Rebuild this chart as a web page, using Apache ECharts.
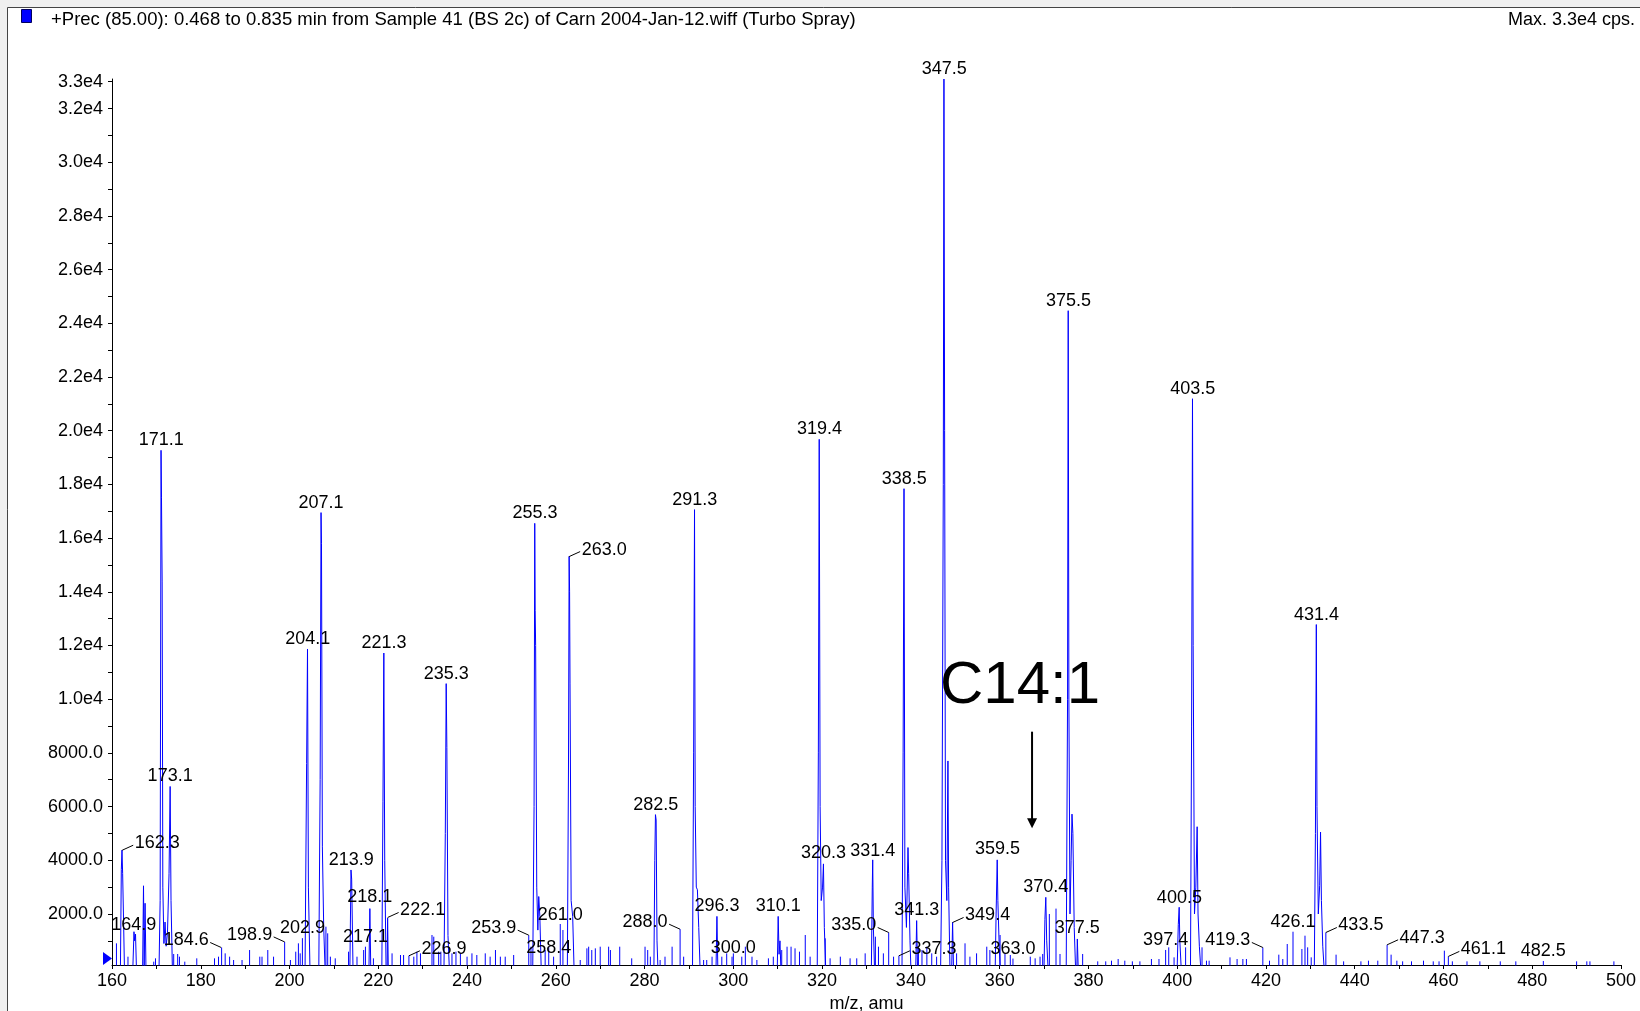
<!DOCTYPE html>
<html><head><meta charset="utf-8">
<script src="https://cdn.jsdelivr.net/npm/echarts@6/dist/echarts.min.js"></script>
<style>html,body{margin:0;padding:0;background:#fff}#c{width:1640px;height:1011px}</style>
</head><body><div id="c"></div>
<script>
// ---------- data ----------
const titleText = '+Prec (85.00): 0.468 to 0.835 min from Sample 41 (BS 2c) of Carn 2004-Jan-12.wiff (Turbo Spray)';
const maxText = 'Max. 3.3e4 cps.';
const xAxisName = 'm/z, amu';
const yTickValues = [1000,2000,3000,4000,5000,6000,7000,8000,9000,10000,11000,12000,13000,14000,15000,16000,17000,18000,19000,20000,21000,22000,23000,24000,25000,26000,27000,28000,29000,30000,31000,32000,33000];
const yLabelValues = [2000,4000,6000,8000,10000,12000,14000,16000,18000,20000,22000,24000,26000,28000,30000,32000,33000];

// profile peaks: [m/z, intensity]
const peakProfiles = [
 [[161.9,0],[162.1,3650],[162.25,4380],[162.4,3500],[162.6,1800],[162.8,0]],
 [[164.7,0],[164.95,1340],[165.1,1000],[165.3,1250],[165.5,0]],
 [[166.9,0],[167.1,3050],[167.25,0],[167.45,2400],[167.65,0]],
 [[170.6,0],[170.85,2500],[171.05,19270],[171.15,17500],[171.25,17500],[171.3,14400],[171.45,3000],[171.7,900],[171.95,1700],[172.2,800],[172.5,1300],[172.85,3500],[173.1,6750],[173.3,2500],[173.6,0]],
 [[203.5,0],[203.85,7600],[204.05,11870],[204.25,3000],[204.6,0]],
 [[206.6,0],[206.9,7000],[207.1,16950],[207.2,15800],[207.4,4500],[207.7,1500],[208.0,0]],
 [[213.6,0],[213.85,3640],[214.0,3300],[214.3,0]],
 [[217.9,0],[218.1,2200],[218.3,0]],
 [[220.8,0],[221.05,6200],[221.25,11720],[221.45,4000],[221.75,0]],
 [[222.0,0],[222.1,1850],[222.25,0]],
 [[234.8,0],[235.1,5000],[235.3,10580],[235.45,8200],[235.7,1200],[236.0,0]],
 [[254.8,0],[255.1,6000],[255.25,16550],[255.35,13300],[255.45,12000],[255.7,3000],[255.95,1400],[256.15,2650],[256.4,1900],[256.7,0]],
 [[262.6,0],[262.85,7400],[263.0,15320],[263.1,14000],[263.2,10600],[263.45,2500],[263.8,1900],[264.1,0]],
 [[282.1,0],[282.3,4000],[282.45,5700],[282.6,5500],[282.8,1000],[283.0,0]],
 [[290.8,0],[291.05,8000],[291.25,17060],[291.4,6000],[291.65,3000],[291.9,2900],[292.2,1500],[292.5,0]],
 [[296.1,0],[296.3,1910],[296.5,0]],
 [[309.9,0],[310.1,1910],[310.3,500],[310.5,1000],[310.7,0]],
 [[318.9,0],[319.15,8000],[319.35,19680],[319.55,6000],[319.8,2500],[320.1,3000],[320.3,3866],[320.5,1500],[320.8,0]],
 [[331.1,0],[331.3,3000],[331.4,4016],[331.55,1500],[331.8,0]],
 [[338.0,0],[338.25,8000],[338.45,17840],[338.65,3000],[339.0,1500],[339.35,4475],[339.5,3500],[339.8,1000],[340.0,0]],
 [[341.1,0],[341.3,1753],[341.5,0]],
 [[346.7,0],[347.0,4000],[347.3,18000],[347.45,33100],[347.6,20000],[347.8,4000],[348.1,2500],[348.35,7700],[348.5,3000],[348.8,0]],
 [[349.2,0],[349.4,1690],[349.6,0]],
 [[359.0,0],[359.2,2000],[359.45,4016],[359.6,2500],[359.9,800],[360.1,0]],
 [[370.0,0],[370.2,1800],[370.4,2620],[370.6,1000],[370.9,0]],
 [[375.0,0],[375.3,10000],[375.45,24470],[375.6,10000],[375.85,2000],[376.1,4000],[376.3,5720],[376.5,5000],[376.8,1500],[377.1,0]],
 [[377.4,0],[377.5,1070],[377.7,0]],
 [[400.0,0],[400.25,1600],[400.45,2250],[400.6,1000],[400.9,0]],
 [[403.0,0],[403.25,9000],[403.45,21190],[403.6,12000],[403.9,2000],[404.2,3000],[404.5,5250],[404.7,2000],[405.0,800],[405.3,0]],
 [[430.9,0],[431.15,5000],[431.35,12780],[431.5,6000],[431.8,2000],[432.1,3050],[432.3,5050],[432.5,2500],[432.8,800],[433.1,0]]
];

// small noise sticks
const noiseMz = [161.0,163.6,169.4,169.8,173.9,174.8,175.2,176.4,179.1,183.1,184.0,184.7,185.5,186.5,187.4,189.3,191.0,193.3,193.8,195.1,196.4,198.9,200.2,201.4,202.0,202.4,202.9,208.2,208.6,209.2,210.3,213.3,215.2,216.7,217.1,218.9,223.1,225.0,225.7,226.9,228.0,228.7,229.5,232.1,232.5,233.6,234.1,236.6,237.5,238.5,240.0,241.1,242.2,244.1,245.2,246.4,247.5,248.6,250.5,253.9,254.4,257.6,258.4,259.5,261.0,261.6,265.5,267.0,267.4,268.1,268.9,270.0,271.9,272.3,274.4,277.1,280.1,280.7,281.3,283.5,284.6,286.2,288.0,288.8,293.3,294.0,295.2,297.4,298.5,299.7,300.0,301.9,302.7,304.2,305.3,307.9,309.0,310.9,312.1,313.0,313.9,314.9,316.2,317.3,320.7,321.8,324.1,326.3,327.8,329.7,332.0,332.7,333.8,335.0,336.1,337.3,341.7,342.5,343.6,344.7,345.8,350.3,352.2,353.3,354.8,357.1,357.8,360.1,361.2,362.4,363.0,366.9,368.0,369.1,369.7,371.2,372.7,373.6,378.7,382.1,383.9,385.2,386.7,388.2,389.9,391.6,394.2,395.9,397.4,398.1,399.3,401.9,405.6,406.6,407.2,411.9,413.5,414.8,415.6,419.3,420.8,422.9,423.8,424.8,426.1,428.1,428.8,429.4,430.2,433.5,435.8,437.5,441.4,443.1,445.2,447.3,448.2,449.5,450.8,452.8,455.5,457.7,459.0,460.2,461.1,462.0,465.3,468.2,472.8,476.3,482.5,490.0,492.3,493.0,498.4];
const noiseInt = [907,410,224,348,510,510,410,224,348,348,410,752,534,410,286,286,658,410,410,658,410,960,286,596,907,534,1100,1527,1280,410,348,596,410,658,782,348,534,472,472,443,410,596,534,1217,1155,596,596,534,596,534,410,534,472,534,410,658,410,410,472,1210,782,658,782,410,1626,1403,286,720,782,658,720,782,782,658,782,348,782,658,410,286,410,782,1433,410,286,286,410,410,534,410,534,410,782,410,286,348,410,658,782,782,720,596,1217,410,1093,348,410,348,348,534,1155,782,534,1310,410,443,782,658,782,534,410,534,907,410,534,782,658,1217,534,472,340,410,348,410,510,2000,2200,510,510,236,236,261,323,261,236,236,323,323,660,758,385,758,758,261,261,385,323,323,323,752,261,485,323,882,1340,696,1192,758,385,1310,485,236,236,261,261,852,485,261,236,236,261,236,236,634,420,236,236,236,236,236,250,236,236,236,236];

// peak labels (m/z, intensity at label anchor)
const labelMz  = [162.3,164.9,171.1,173.1,184.6,198.9,202.9,204.1,207.1,213.9,217.1,218.1,221.3,222.1,226.9,235.3,253.9,255.3,258.4,261.0,263.0,282.5,288.0,291.3,296.3,300.0,310.1,319.4,320.3,331.4,335.0,337.3,338.5,341.3,347.5,349.4,359.5,363.0,370.4,375.5,377.5,397.4,400.5,403.5,419.3,426.1,431.4,433.5,447.3,461.1,482.5];
const labelInt = [4375,1200,19270,6750,752,960,1100,11870,16950,3640,780,2260,11720,1869,443,10580,1210,16550,360,1590,15312,5700,1433,17060,1925,370,1925,19680,3910,3984,1310,443,17840,1776,33100,1683,4036,330,2620,24470,1094,660,2211,21190,752,1340,12780,1310,852,420,250];

// ---------- styles (label placement: 0 above, 1 leader to right, -1 leader to left) ----------
const labelSide = [1,0,0,0,-1,-1,0,0,0,0,0,0,0,1,1,0,-1,0,0,0,1,0,-1,0,0,0,0,0,0,0,-1,1,0,0,0,1,0,0,0,0,0,0,0,0,-1,0,0,1,1,1,0];
const annotation = { text: 'C14:1', textAt: [364.6, 10490], arrowFrom: [367.3, 8790], arrowTo: [367.3, 5190] };
const FONT = '"Liberation Sans", Arial, Helvetica, sans-serif';
const BLUE = '#0000ff';

// ---------- build line data ----------
const lineData = [];
peakProfiles.forEach(pf => { pf.forEach(p => lineData.push(p)); lineData.push([pf[pf.length-1][0], '-']); });
noiseMz.forEach((m, i) => { lineData.push([m, 0]); lineData.push([m, noiseInt[i]]); lineData.push([m, '-']); });

const chart = echarts.init(document.getElementById('c'), null, {renderer: 'canvas'});
const option = {
  animation: false,
  backgroundColor: '#ffffff',
  textStyle: {fontFamily: FONT},
  grid: {left: 112, right: 19, top: 79, bottom: 46, containLabel: false, outerBoundsMode: 'none'},
  xAxis: {
    type: 'value', min: 160, max: 500, interval: 20,
    axisLine: {onZero: false, lineStyle: {color: '#000', width: 1}},
    axisTick: {length: 4, lineStyle: {color: '#000'}},
    minorTick: {show: true, splitNumber: 2, length: 4, lineStyle: {color: '#000'}},
    splitLine: {show: false}, minorSplitLine: {show: false},
    axisLabel: {fontSize: 18, color: '#000', fontFamily: FONT, margin: 7},
    name: xAxisName, nameLocation: 'middle', nameGap: 28,
    nameTextStyle: {fontSize: 18, color: '#000', fontFamily: FONT}
  },
  yAxis: {
    type: 'value', min: 100, max: 33100,
    axisLine: {show: true, onZero: false, lineStyle: {color: '#000', width: 1}},
    axisTick: {show: true, length: 4, customValues: yTickValues, lineStyle: {color: '#000'}},
    splitLine: {show: false},
    axisLabel: {
      customValues: yLabelValues, fontSize: 18, color: '#000', fontFamily: FONT, margin: 9,
      formatter: v => v < 10000 ? v.toFixed(1) : (v / 10000).toFixed(1) + 'e4'
    }
  },
  graphic: [
    {type: 'rect', shape: {x: 0, y: 0, width: 1640, height: 7}, style: {fill: '#f0f0f0'}, silent: true},
    {type: 'rect', shape: {x: 0, y: 0, width: 7, height: 1011}, style: {fill: '#f0f0f0'}, silent: true},
    {type: 'line', shape: {x1: 7.5, y1: 7.5, x2: 1640, y2: 7.5}, style: {stroke: '#444', lineWidth: 1}, silent: true},
    {type: 'line', shape: {x1: 7.5, y1: 7.5, x2: 7.5, y2: 1011}, style: {stroke: '#444', lineWidth: 1}, silent: true},
    {type: 'rect', shape: {x: 21.5, y: 9.5, width: 10, height: 13}, style: {fill: BLUE, stroke: '#000060', lineWidth: 1}, silent: true},
    {type: 'text', style: {text: titleText, x: 51, y: 20, verticalAlign: 'middle', align: 'left', font: '18.5px ' + FONT, fill: '#000'}, silent: true},
    {type: 'text', style: {text: maxText, x: 1635, y: 20, verticalAlign: 'middle', align: 'right', font: '18px ' + FONT, fill: '#000'}, silent: true},
    {type: 'polygon', shape: {points: [[103, 952], [112, 958.5], [103, 965]]}, style: {fill: BLUE}, silent: true, z: 100}
  ],
  series: [
    {
      type: 'line', data: lineData, showSymbol: false, symbol: 'none', connectNulls: false,
      sampling: null, clip: true, lineStyle: {color: BLUE, width: 1}, itemStyle: {color: BLUE},
      silent: true, z: 2
    },
    {
      type: 'custom', coordinateSystem: 'cartesian2d', clip: false, silent: true, z: 5,
      data: labelMz.map((m, i) => [m, labelInt[i]]),
      renderItem: (params, api) => {
        const i = params.dataIndex;
        const p = api.coord([api.value(0), api.value(1)]);
        const s = labelSide[i];
        const txt = labelMz[i].toFixed(1);
        if (s === 0) {
          return {type: 'text', style: {text: txt, x: p[0], y: p[1] - 10, align: 'center', verticalAlign: 'middle', font: '18px ' + FONT, fill: '#000'}};
        }
        return {type: 'group', children: [
          {type: 'line', shape: {x1: p[0], y1: p[1], x2: p[0] + 11 * s, y2: p[1] - 5}, style: {stroke: '#000', lineWidth: 1}},
          {type: 'text', style: {text: txt, x: p[0] + 12.5 * s, y: p[1] - 7, align: s > 0 ? 'left' : 'right', verticalAlign: 'middle', font: '18px ' + FONT, fill: '#000'}}
        ]};
      }
    },
    {
      type: 'custom', coordinateSystem: 'cartesian2d', clip: false, silent: true, z: 6,
      data: [[annotation.arrowFrom[0], annotation.arrowFrom[1]]],
      renderItem: (params, api) => {
        const t = api.coord(annotation.textAt);
        const a = api.coord(annotation.arrowFrom);
        const b = api.coord(annotation.arrowTo);
        return {type: 'group', children: [
          {type: 'text', style: {text: annotation.text, x: t[0], y: t[1], align: 'center', verticalAlign: 'middle', font: '60px ' + FONT, fill: '#000'}},
          {type: 'line', shape: {x1: a[0], y1: a[1], x2: b[0], y2: b[1] - 8}, style: {stroke: '#000', lineWidth: 2}},
          {type: 'polygon', shape: {points: [[b[0] - 5, b[1] - 10], [b[0] + 5, b[1] - 10], [b[0], b[1]]]}, style: {fill: '#000'}}
        ]};
      }
    }
  ]
};
chart.setOption(option);
</script>
</body></html>
